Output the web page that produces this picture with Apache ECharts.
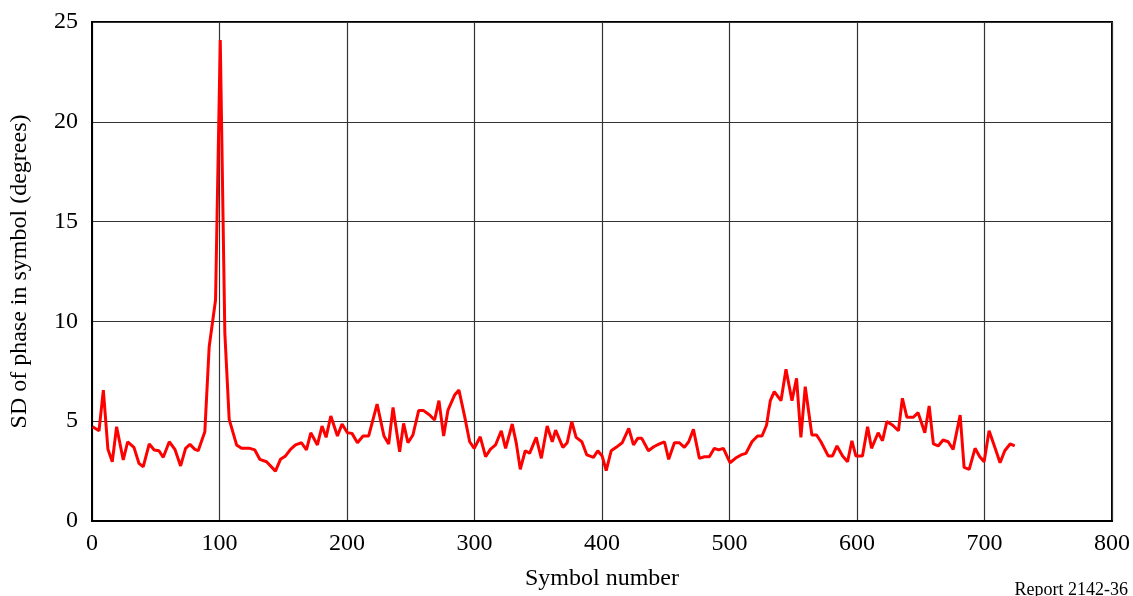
<!DOCTYPE html>
<html>
<head>
<meta charset="utf-8">
<script src="https://cdn.jsdelivr.net/npm/echarts@6/dist/echarts.min.js"></script>
<style>
html,body{margin:0;padding:0;background:#fff;}
#c{width:1133px;height:596px;}
</style>
</head>
<body>
<div id="c"></div>
<script>
const symbolNumbers = [0.5,5.5,8.9,12.5,15.9,19.3,24.5,28,32.9,36.8,40.2,44.9,48.8,52.5,55.9,60.6,65,69.5,73.4,76.8,80.7,83.3,88.5,91.9,96.9,100.6,104.2,107.6,113.4,117.3,
123.8,127.7,131.6,136.9,143.9,147.8,151.8,155.7,159.6,164.3,168.2,171.6,176.8,180.4,183.6,187.3,192.5,196.1,200.3,203.9,208.2,212.6,217,223.6,229,232.7,236.1,241.3,
244.4,247.8,251.7,256.2,260.1,264.8,268.7,272.1,275.8,279.2,284.4,287.8,292.3,296.2,299.8,304.5,308.7,312.4,316.5,321,324.4,329.6,332.8,335.9,339.8,343.2,348.4,352.4,357,361,
363.6,369.3,372.7,376.3,379.7,384.2,388.1,393.3,396.7,400.1,403.3,407.2,411.1,415.8,421,424.7,428,431.2,436.4,440.6,445,449,452.3,456.8,460.7,464.6,468,471.7,476.4,480.3,484.2,
488.1,491.5,495.2,500.4,504.6,509,512.9,517.6,522,525.5,529.1,532,535.1,540.4,544.3,549,552.6,556,559.4,564.6,568.3,571.7,577.4,580.8,584.3,588.7,592.6,596,599.1,604.3,
608.3,611.4,616.6,620,623.4,627.8,632.5,635.6,639.1,644.2,647.9,653.2,656.6,659.9,663.7,667.5,671.5,675.4,680.9,684,688,692.6,696.3,699.7,703.6,708.1,712.2,715.9,720.1,723.7];
const sdPhase = [4.72,4.52,6.56,3.59,2.97,4.72,3.06,3.97,3.69,2.89,2.72,3.86,3.56,3.52,3.19,3.97,3.59,2.76,3.64,3.84,3.59,3.52,4.47,8.73,11.07,24.1,9.4,5.09,3.81,3.64,
3.64,3.56,3.09,2.97,2.5,3.09,3.26,3.59,3.81,3.92,3.56,4.42,3.81,4.76,4.19,5.26,4.26,4.86,4.42,4.39,3.92,4.26,4.26,5.86,4.26,3.86,5.69,3.47,
4.89,3.92,4.31,5.53,5.53,5.31,5.06,6.03,4.26,5.56,6.31,6.56,5.23,3.97,3.64,4.22,3.22,3.59,3.81,4.52,3.64,4.86,3.89,2.59,3.52,3.39,4.19,3.14,4.76,3.97,
4.55,3.69,3.92,4.98,4.19,3.97,3.31,3.19,3.52,3.26,2.52,3.52,3.69,3.92,4.64,3.81,4.14,4.14,3.52,3.72,3.86,3.97,3.09,3.92,3.92,3.69,3.97,4.59,3.14,3.22,3.22,
3.64,3.56,3.64,2.92,3.14,3.31,3.39,3.97,4.26,4.26,4.81,6.03,6.48,6.03,7.6,6.03,7.15,4.19,6.73,4.31,4.31,3.97,3.26,3.26,3.76,3.26,2.97,4.02,3.26,3.26,
4.72,3.64,4.42,4.02,4.98,4.81,4.52,6.15,5.2,5.2,5.43,4.42,5.76,3.86,3.76,4.06,3.97,3.59,5.31,2.69,2.59,3.64,3.22,2.97,4.52,3.69,2.92,3.52,3.86,3.76];
const xTicks = [0,100,200,300,400,500,600,700,800];
const yTicks = [0,5,10,15,20,25];
const xTitle = 'Symbol number';
const yTitle = 'SD of phase in symbol (degrees)';
const reportLabel = 'Report 2142-36';

const seriesData = symbolNumbers.map((x, i) => [x, sdPhase[i]]);
const font = '"Liberation Serif","Times New Roman",serif';
const chart = echarts.init(document.getElementById('c'), null, {renderer: 'canvas'});
chart.setOption({
  animation: false,
  backgroundColor: '#fff',
  grid: {left: 92, right: 20, top: 22, bottom: 75, show: true, borderColor: '#000', borderWidth: 2, backgroundColor: 'transparent'},
  xAxis: {
    type: 'value', min: xTicks[0], max: xTicks[xTicks.length - 1], interval: 100,
    name: xTitle, nameLocation: 'middle', nameGap: 46,
    nameTextStyle: {fontFamily: font, fontSize: 24, color: '#000'},
    axisLine: {show: true, lineStyle: {color: '#000', width: 2}},
    axisTick: {show: false},
    axisLabel: {fontFamily: font, fontSize: 24, color: '#000', margin: 11},
    splitLine: {show: true, lineStyle: {color: '#333', width: 1.2}}
  },
  yAxis: {
    type: 'value', min: yTicks[0], max: yTicks[yTicks.length - 1], interval: 5,
    name: yTitle, nameLocation: 'middle', nameGap: 60,
    nameTextStyle: {fontFamily: font, fontSize: 24, color: '#000'},
    axisLine: {show: true, lineStyle: {color: '#000', width: 2}},
    axisTick: {show: false},
    axisLabel: {fontFamily: font, fontSize: 24, color: '#000', margin: 14},
    splitLine: {show: true, lineStyle: {color: '#333', width: 1.2}}
  },
  graphic: [{
    type: 'text', right: 5, bottom: -3,
    style: {text: reportLabel, font: '18px ' + font, fill: '#000'}
  }],
  series: [{
    type: 'line', data: seriesData, showSymbol: false, symbol: 'none',
    lineStyle: {color: '#ff0000', width: 3},
    z: 5
  }]
});
</script>
</body>
</html>
